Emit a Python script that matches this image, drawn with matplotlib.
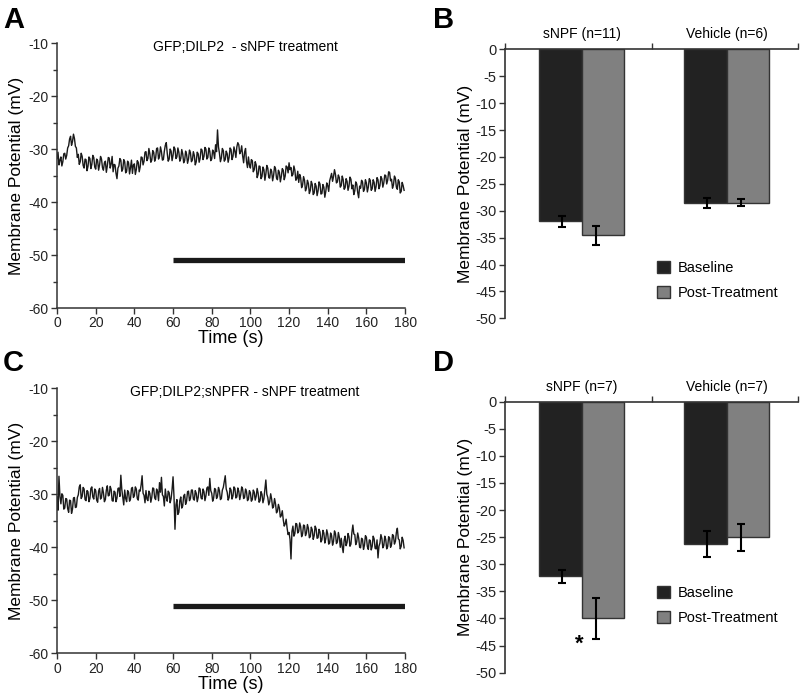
import numpy as np
import matplotlib
matplotlib.use("Agg")
import matplotlib.pyplot as plt
from matplotlib.patches import Patch

plt.rcParams['font.family'] = ['Liberation Sans', 'DejaVu Sans']
plt.rcParams['axes.unicode_minus'] = False

# ---------------- data: traces (mV, one value every 0.5 s)
time_s = np.arange(360) * 0.5

trace_a = [
    -31.8, -30.6, -33.0, -32.1, -31.5, -33.2, -32.4, -30.9, -30.8, -31.9,
    -31.2, -29.8, -29.4, -28.1, -27.6, -29.3, -28.6, -27.2, -28.0, -29.5,
    -29.8, -31.6, -31.0, -32.9, -32.4, -30.8, -31.4, -33.1, -33.6, -31.9,
    -32.0, -34.1, -33.3, -31.5, -31.8, -33.7, -32.9, -31.2, -31.6, -33.4,
    -33.8, -31.9, -32.2, -34.0, -33.0, -31.4, -31.9, -33.5, -34.0, -32.6,
    -32.3, -34.4, -33.2, -31.6, -31.7, -33.6, -32.8, -31.4, -34.3, -32.9,
    -33.0, -34.6, -35.6, -33.6, -33.2, -31.8, -32.1, -34.2, -33.8, -32.0,
    -32.4, -34.5, -34.2, -32.3, -32.6, -34.7, -33.5, -32.1, -34.6, -33.0,
    -32.8, -34.8, -33.9, -32.2, -32.5, -34.3, -33.4, -31.5, -31.6, -33.0,
    -32.3, -30.6, -30.5, -32.2, -31.8, -29.9, -30.9, -32.5, -32.1, -30.3,
    -30.6, -32.3, -31.7, -29.9, -29.8, -31.9, -31.4, -29.6, -30.5, -32.1,
    -32.0, -30.4, -29.3, -28.8, -30.8, -32.3, -31.9, -30.0, -30.4, -32.2,
    -31.2, -29.6, -30.0, -31.8, -31.5, -29.8, -30.6, -32.3, -31.8, -30.1,
    -30.9, -32.6, -32.2, -30.4, -31.0, -32.7, -31.9, -30.2, -30.7, -32.4,
    -32.1, -30.5, -31.2, -33.0, -32.4, -30.6, -30.9, -32.5, -31.8, -30.0,
    -30.2, -32.0, -31.4, -29.7, -30.0, -31.9, -31.6, -29.8, -30.4, -32.2,
    -31.9, -30.2, -30.6, -31.8, -29.2, -30.5, -26.4, -29.6, -30.8, -32.4,
    -31.7, -29.9, -30.3, -32.3, -32.0, -30.4, -30.9, -32.5, -31.6, -29.8,
    -30.1, -32.0, -31.4, -29.6, -30.4, -31.6, -29.6, -28.8, -29.2, -30.9,
    -30.5, -29.4, -31.3, -32.6, -30.6, -29.9, -32.4, -33.5, -31.5, -33.0,
    -33.6, -32.0, -32.2, -34.3, -33.9, -32.4, -33.0, -35.4, -34.8, -33.2,
    -33.3, -35.6, -35.2, -33.4, -33.9, -35.9, -34.7, -33.1, -33.6, -35.4,
    -35.5, -33.8, -34.2, -36.0, -35.0, -33.3, -33.7, -35.5, -35.8, -34.0,
    -34.4, -36.2, -35.2, -33.7, -34.0, -35.8, -35.1, -33.2, -33.4, -34.5,
    -32.6, -33.9, -33.5, -35.1, -34.8, -33.2, -34.0, -35.9, -35.6, -34.2,
    -36.3, -34.8, -35.4, -37.3, -36.8, -35.2, -35.9, -37.9, -37.4, -35.9,
    -36.5, -38.4, -37.8, -36.1, -36.7, -38.6, -38.3, -36.5, -37.0, -38.8,
    -37.9, -36.2, -36.6, -38.5, -38.4, -36.7, -37.2, -39.1, -38.0, -36.4,
    -36.9, -38.0, -36.0, -35.3, -34.6, -36.1, -35.2, -33.9, -34.8, -36.4,
    -36.2, -34.9, -35.4, -37.2, -36.9, -35.1, -35.8, -37.6, -37.3, -35.6,
    -36.1, -37.8, -37.0, -35.3, -35.7, -37.5, -36.8, -38.6, -37.9, -36.2,
    -36.6, -38.2, -39.2, -37.0, -37.4, -35.9, -36.2, -38.0, -37.6, -35.8,
    -36.4, -38.1, -37.2, -35.6, -35.9, -37.8, -37.5, -35.8, -36.3, -38.0,
    -37.1, -35.4, -35.8, -37.5, -36.9, -35.2, -35.6, -37.2, -36.4, -34.9,
    -35.0, -36.6, -35.9, -34.3, -34.4, -36.0, -35.7, -37.4, -36.8, -35.1,
    -35.5, -37.2, -37.6, -35.8, -36.2, -38.3, -38.0, -36.3, -36.9, -37.8,
]

trace_c = [
    -30.5, -33.0, -26.6, -30.4, -31.8, -29.9, -30.2, -32.8, -32.6, -30.8,
    -30.9, -32.7, -33.4, -31.1, -31.2, -33.6, -32.8, -30.7, -30.6, -32.5,
    -32.4, -30.6, -30.1, -28.6, -28.2, -30.8, -30.4, -28.7, -29.0, -31.0,
    -31.2, -29.3, -29.5, -31.4, -30.8, -28.9, -28.6, -30.5, -30.9, -29.0,
    -29.3, -31.1, -31.5, -29.4, -28.9, -30.9, -30.6, -28.7, -29.7, -31.4,
    -31.0, -29.2, -28.4, -30.3, -30.2, -28.5, -29.1, -31.2, -31.3, -29.4,
    -29.6, -31.4, -30.7, -28.9, -28.8, -30.4, -26.4, -29.1, -30.5, -32.0,
    -29.2, -30.8, -31.4, -29.3, -29.6, -31.3, -30.9, -28.9, -28.7, -30.6,
    -30.3, -28.6, -29.0, -30.8, -31.1, -29.2, -29.4, -28.2, -26.5, -29.8,
    -30.2, -31.6, -29.3, -30.9, -31.2, -29.4, -29.8, -31.5, -30.6, -28.8,
    -28.9, -30.7, -31.0, -29.0, -29.5, -31.2, -27.8, -29.6, -26.8, -30.1,
    -30.4, -32.2, -29.0, -30.6, -31.3, -29.4, -29.7, -31.6, -30.8, -29.1,
    -26.7, -30.5, -36.6, -32.0, -31.0, -33.8, -33.4, -31.2, -30.5, -32.6,
    -32.2, -30.3, -30.0, -31.9, -31.3, -29.5, -29.4, -31.2, -30.8, -29.2,
    -29.2, -30.9, -31.1, -29.3, -29.8, -31.4, -30.6, -28.8, -29.0, -30.7,
    -30.9, -29.0, -29.5, -31.2, -30.3, -28.8, -28.6, -30.2, -27.0, -29.3,
    -29.8, -31.3, -30.7, -28.9, -29.1, -30.8, -30.4, -28.7, -29.3, -31.0,
    -30.8, -29.2, -28.7, -27.6, -26.5, -29.0, -29.6, -31.1, -30.6, -28.8,
    -29.2, -30.9, -30.3, -28.6, -28.9, -30.7, -30.5, -28.8, -29.4, -31.0,
    -30.1, -28.6, -29.0, -30.8, -30.6, -29.0, -29.5, -31.2, -30.9, -29.3,
    -29.7, -31.3, -31.0, -29.2, -29.6, -31.1, -30.4, -28.9, -29.8, -31.5,
    -31.2, -29.5, -30.0, -31.6, -30.8, -29.1, -27.3, -30.0, -30.6, -32.0,
    -31.4, -29.9, -30.9, -32.6, -32.3, -30.8, -31.8, -33.5, -33.2, -31.9,
    -32.6, -34.3, -34.0, -33.1, -34.8, -36.0, -35.6, -34.7, -36.4, -37.6,
    -37.2, -38.5, -42.2, -37.0, -36.0, -37.9, -37.4, -35.5, -35.6, -37.3,
    -37.0, -35.4, -36.1, -38.0, -37.5, -35.8, -35.9, -37.8, -37.3, -35.7,
    -36.4, -38.2, -38.0, -36.2, -36.7, -38.5, -37.8, -36.0, -36.5, -38.3,
    -38.2, -36.6, -37.1, -39.0, -38.6, -36.8, -37.3, -39.2, -38.4, -36.7,
    -37.5, -39.4, -39.2, -37.3, -37.8, -39.6, -38.9, -36.9, -37.4, -39.3,
    -39.0, -37.2, -38.1, -40.0, -38.3, -39.9, -41.0, -38.6, -37.9, -39.7,
    -39.1, -37.4, -38.0, -39.8, -39.4, -37.2, -35.8, -37.5, -37.6, -39.5,
    -39.0, -37.3, -38.2, -40.0, -40.1, -38.3, -38.5, -40.4, -39.6, -37.8,
    -38.1, -39.9, -40.4, -38.6, -38.7, -40.5, -39.8, -37.9, -38.4, -40.2,
    -40.3, -38.6, -42.0, -39.8, -39.2, -37.6, -38.3, -40.1, -39.7, -37.9,
    -38.5, -40.3, -39.9, -38.0, -38.2, -40.0, -39.5, -37.6, -37.8, -39.4,
    -38.9, -37.2, -36.4, -38.4, -38.6, -40.3, -39.8, -38.1, -38.7, -40.1,
]

treat_on = [60, 180]
treat_level = -51

# ---------------- data: bar summaries (mV)
groups_b = ["sNPF (n=11)", "Vehicle (n=6)"]
base_b = [-32.0, -28.5]
base_b_err = [1.0, 0.9]
post_b = [-34.6, -28.5]
post_b_err = [1.8, 0.6]

groups_d = ["sNPF (n=7)", "Vehicle (n=7)"]
base_d = [-32.2, -26.3]
base_d_err = [1.2, 2.4]
post_d = [-40.0, -25.0]
post_d_err = [3.8, 2.5]

dark = '#222222'
grey = '#808080'
axcol = '#333333'

fig = plt.figure(figsize=(8.01, 6.97), dpi=100)

def trace_panel(rect, y, title, letter, letter_y):
    ax = fig.add_axes(rect)
    ax.plot(time_s, y, color='#1a1a1a', lw=1.0)
    ax.plot(treat_on, [treat_level, treat_level], color='#1a1a1a', lw=3.8,
            solid_capstyle='butt')
    ax.set_xlim(0, 180)
    ax.set_ylim(-60, -10)
    ax.set_xticks(np.arange(0, 181, 20))
    ax.set_yticks(np.arange(-60, -9, 10))
    ax.set_yticks(np.arange(-55, -10, 10), minor=True)
    for s in ['top', 'right']:
        ax.spines[s].set_visible(False)
    for s in ['left', 'bottom']:
        ax.spines[s].set_color(axcol)
        ax.spines[s].set_linewidth(1.1)
    ax.tick_params(which='both', direction='out', color=axcol, width=1.0,
                   labelsize=10, labelcolor='#222222')
    ax.tick_params(which='major', length=4, pad=2)
    ax.tick_params(which='minor', length=3)
    ax.set_xlabel('Time (s)', fontsize=13, labelpad=0)
    ax.set_ylabel('Membrane Potential (mV)', fontsize=12.5, labelpad=3)
    ax.text(0.54, 0.985, title, transform=ax.transAxes, ha='center',
            va='center', fontsize=10)
    fig.text(0.004, letter_y, letter, fontsize=21,
             fontweight='bold', va='center', ha='left')
    return ax

def bar_panel(rect, groups, base, base_err, post, post_err, letter,
              letter_y, leg_y):
    ax = fig.add_axes(rect)
    centers = np.array([0.522, 1.512])
    w = 0.293
    ax.bar(centers - w / 2, base, w, color=dark, edgecolor=axcol, lw=1.0,
           label='Baseline', zorder=2)
    ax.bar(centers + w / 2, post, w, color=grey, edgecolor=axcol, lw=1.0,
           label='Post-Treatment', zorder=2)
    ax.errorbar(centers - w / 2 + 0.015, base, yerr=base_err, fmt='none',
                ecolor='black', elinewidth=1.5, capsize=3, capthick=1.5,
                zorder=3)
    ax.errorbar(centers + w / 2 - 0.045, post, yerr=post_err, fmt='none',
                ecolor='black', elinewidth=1.5, capsize=3, capthick=1.5,
                zorder=3)
    ax.set_xlim(0, 2)
    ax.set_ylim(-50, 0)
    ax.set_yticks(np.arange(-50, 1, 5))
    ax.set_xticks([0, 1, 2])
    ax.xaxis.tick_top()
    ax.tick_params(axis='x', labeltop=False, length=4, direction='out',
                   color=axcol, width=1.0)
    ax.tick_params(axis='y', length=4, direction='out', color=axcol,
                   width=1.0, labelsize=10.5, pad=2, labelcolor='#222222')
    for s in ['bottom', 'right']:
        ax.spines[s].set_visible(False)
    for s in ['left', 'top']:
        ax.spines[s].set_color(axcol)
        ax.spines[s].set_linewidth(1.2)
    for c, g in zip(centers, groups):
        ax.text(c, 1.5, g, ha='center', va='bottom', fontsize=10)
    ax.set_ylabel('Membrane Potential (mV)', fontsize=12.5, labelpad=2)
    handles = [Patch(facecolor=dark, edgecolor=axcol),
               Patch(facecolor=grey, edgecolor=axcol)]
    ax.legend(handles, ['Baseline', 'Post-Treatment'], loc='upper left',
              bbox_to_anchor=(0.5, leg_y), frameon=False, fontsize=10.5,
              handlelength=0.9, handleheight=0.9, handletextpad=0.5,
              labelspacing=0.75, borderaxespad=0)
    fig.text(0.541, letter_y, letter, fontsize=21,
             fontweight='bold', va='center', ha='left')
    return ax

trace_panel([0.0712, 0.5581, 0.4345, 0.3802], trace_a,
            'GFP;DILP2  - sNPF treatment', 'A', 0.972)
trace_panel([0.0712, 0.0627, 0.4345, 0.3802], trace_c,
            'GFP;DILP2;sNPFR - sNPF treatment', 'C', 0.479)
bar_panel([0.6305, 0.5433, 0.3658, 0.3859], groups_b, base_b, base_b_err,
          post_b, post_b_err, 'B', 0.972, 0.235)
ax_d = bar_panel([0.6305, 0.0349, 0.3658, 0.3888], groups_d, base_d,
                 base_d_err, post_d, post_d_err, 'D', 0.479, 0.34)
ax_d.text(0.505, -44.8, '*', ha='center', va='center', fontsize=16,
          fontweight='bold')

fig.savefig('out.png', dpi=100)
